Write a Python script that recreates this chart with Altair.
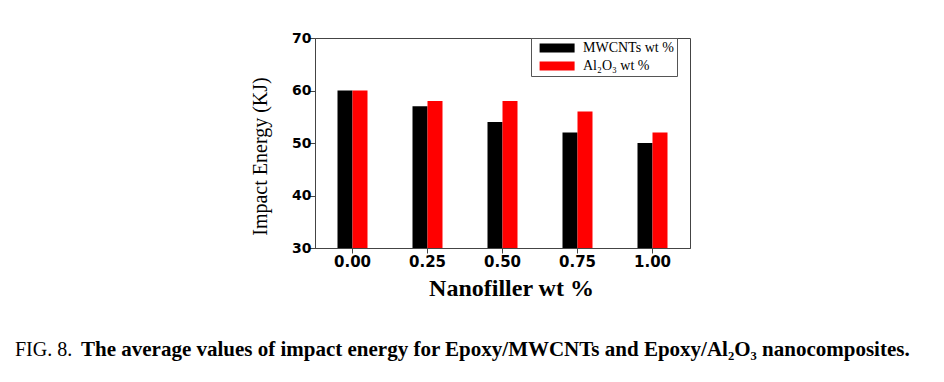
import altair as alt
import pandas as pd

categories = ["0.00", "0.25", "0.50", "0.75", "1.00"]
series = ["MWCNTs wt %", "Al₂O₃ wt %"]
mwcnts = [60, 57, 54, 52, 50]
al2o3 = [60, 58, 58, 56, 52]
colors = ["#000000", "#ff0000"]
y_ticks = [30, 40, 50, 60, 70]

rows = []
for c, a, b in zip(categories, mwcnts, al2o3):
    rows.append({"cat": c, "series": series[0], "value": a})
    rows.append({"cat": c, "series": series[1], "value": b})
df = pd.DataFrame(rows)

legend_path = "M-0.35,-1.125H8.4V1.125H-0.35Z"

bars = alt.Chart(df).mark_bar(strokeWidth=0).encode(
    x=alt.X("cat:N", sort=categories,
            scale=alt.Scale(paddingInner=0.6, paddingOuter=0.3),
            axis=alt.Axis(title="Nanofiller wt %", labelAngle=0,
                          labelFont="DejaVu Sans", labelFontWeight="bold",
                          labelFontSize=15, labelColor="#000",
                          labelPadding=1, tickSize=5, tickColor="#444",
                          domainColor="#444",
                          titleFont="Liberation Serif", titleFontWeight="bold",
                          titleFontSize=24, titleColor="#000",
                          titleBaseline="alphabetic", titleY=47, titleX=196)),
    xOffset=alt.XOffset("series:N", sort=series, scale=alt.Scale(paddingInner=0, paddingOuter=0)),
    y=alt.Y("value:Q", scale=alt.Scale(domain=[30, 70], zero=False, nice=False),
            axis=alt.Axis(title="Impact Energy (KJ)", values=y_ticks, grid=False,
                          labelFont="DejaVu Sans", labelFontWeight="bold",
                          labelFontSize=14, labelColor="#000",
                          labelPadding=-2, tickSize=6, tickColor="#444",
                          domainColor="#444",
                          titleFont="Liberation Serif", titleFontWeight="normal",
                          titleFontSize=20, titleColor="#000",
                          titleBaseline="middle", titleX=-55, titleY=118, titleAngle=-90)),
    y2=alt.datum(30),
    color=alt.Color("series:N", sort=series,
                    scale=alt.Scale(domain=series, range=colors),
                    legend=alt.Legend(title=None, orient="none", legendX=216, legendY=0,
                                      symbolType=legend_path, symbolSize=64,
                                      symbolStrokeWidth=0, labelOffset=35,
                                      labelFont="Liberation Serif", labelFontSize=14,
                                      labelColor="#000", padding=3, rowPadding=4,
                                      strokeColor="#555", fillColor="#ffffff")),
)

cap_data = alt.Data(values=[{"k": 1}])
cap1 = alt.Chart(cap_data).mark_text(
    font="Liberation Serif", fontSize=20, fontWeight="normal", align="left",
    baseline="alphabetic", color="#000"
).encode(x=alt.value(-300), y=alt.value(318), text=alt.value("FIG. 8."))
cap2 = alt.Chart(cap_data).mark_text(
    font="Liberation Serif", fontSize=21, fontWeight="bold", align="left",
    baseline="alphabetic", color="#000"
).encode(x=alt.value(-234), y=alt.value(318),
         text=alt.value("The average values of impact energy for Epoxy/MWCNTs and Epoxy/Al₂O₃ nanocomposites."))

chart = alt.layer(bars, cap1, cap2).properties(
    width=375, height=210,
    autosize=alt.AutoSizeParams(type="none"),
    padding={"left": 307, "top": 30, "right": 246, "bottom": 126},
    background="#ffffff",
).configure_view(stroke="#444", strokeWidth=1)

chart.save("out.html", embed_options={"renderer": "svg", "actions": False})
